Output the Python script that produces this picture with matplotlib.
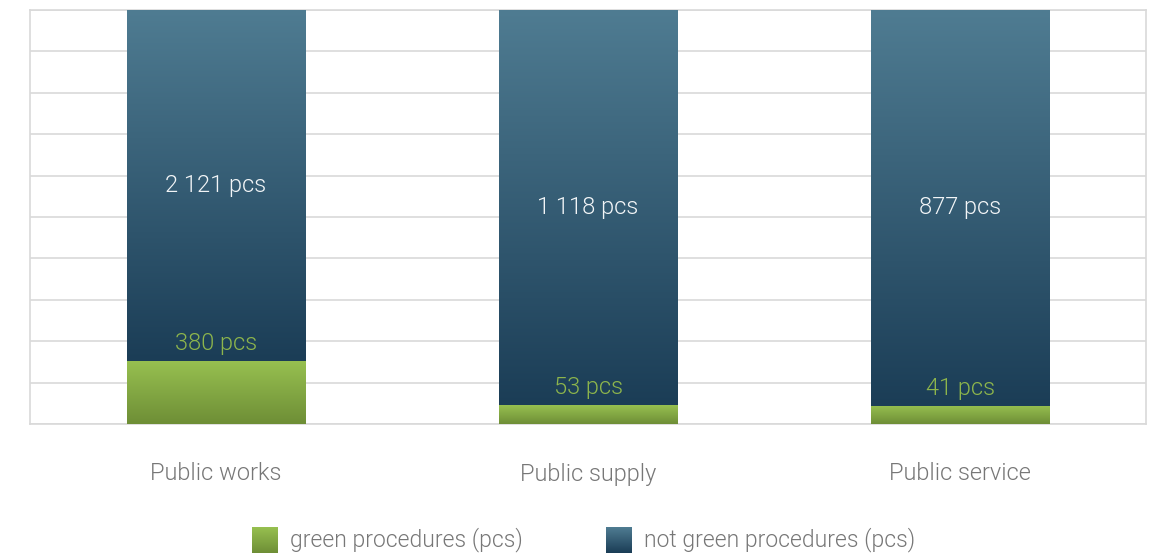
import numpy as np
import matplotlib.pyplot as plt
from matplotlib.colors import LinearSegmentedColormap

# ==============================
# Data
# ==============================

categories = ["Public works", "Public supply", "Public service"]
green = [380, 53, 41]
not_green = [2121, 1118, 877]
legend_labels = ["green procedures (pcs)", "not green procedures (pcs)"]

green = np.array(green)
not_green = np.array(not_green)
total = green + not_green
green_pct = green / total * 100
not_green_pct = not_green / total * 100

# ==============================
# Style
# ==============================

plt.rcParams["font.family"] = ["Roboto", "DejaVu Sans"]
WEIGHT = 300

BLUE_TOP, BLUE_BOT = "#4f7c92", "#1b3d56"
GREEN_TOP, GREEN_BOT = "#97c050", "#6e8e36"
GRID = "#d9d9d9"
TEXT_GRAY = "#777777"
LABEL_GREEN = "#8db54c"


def grad_fill(ax, patch, top, bottom):
    x0, y0 = patch.get_x(), patch.get_y()
    w, h = patch.get_width(), patch.get_height()
    cmap = LinearSegmentedColormap.from_list("g", [bottom, top])
    grad = np.linspace(0, 1, 256).reshape(-1, 1)
    ax.imshow(grad, extent=[x0, x0 + w, y0, y0 + h], origin="lower",
              cmap=cmap, aspect="auto", zorder=3, interpolation="bicubic")
    patch.set_visible(False)


fig = plt.figure(figsize=(11.55, 5.53), dpi=100)
ax = fig.add_axes([30 / 1155, 1 - 424 / 553, 1116 / 1155, 414 / 553])

x = np.arange(len(categories))
width = 0.48

bars_g = ax.bar(x, green_pct, width=width)
bars_n = ax.bar(x, not_green_pct, width=width, bottom=green_pct)

for p in bars_g:
    grad_fill(ax, p, GREEN_TOP, GREEN_BOT)
for p in bars_n:
    grad_fill(ax, p, BLUE_TOP, BLUE_BOT)

ax.set_xlim(-0.5, len(categories) - 0.5)
ax.set_ylim(0, 100)
ax.set_yticks(np.arange(0, 101, 10))
ax.set_xticks([])
ax.tick_params(left=False, labelleft=False)
ax.grid(axis="y", color=GRID, linewidth=1.2, zorder=0)
ax.set_axisbelow(True)
for s in ax.spines.values():
    s.set_color(GRID)
    s.set_linewidth(1.2)

# ==============================
# Labels
# ==============================

for i in range(len(categories)):
    ax.text(x[i], green_pct[i] + not_green_pct[i] / 2,
            f"{not_green[i]:,} pcs".replace(",", " "),
            ha="center", va="center", color="#f2f5f7", fontsize=17,
            fontweight=WEIGHT, zorder=5)
    ax.annotate(f"{green[i]} pcs", (x[i], green_pct[i]),
                xytext=(0, 12.5), textcoords="offset points",
                ha="center", va="center", color=LABEL_GREEN, fontsize=17,
                fontweight=WEIGHT, zorder=5)
    ax.text(x[i], -50 / 414, categories[i], transform=ax.get_xaxis_transform(),
            ha="center", va="center", color=TEXT_GRAY, fontsize=17,
            fontweight=WEIGHT)

# ==============================
# Legend
# ==============================

leg_items = [(252, GREEN_TOP, GREEN_BOT, legend_labels[0]),
             (606, BLUE_TOP, BLUE_BOT, legend_labels[1])]
for px, top, bot, lab in leg_items:
    lax = fig.add_axes([px / 1155, 0, 26 / 1155, 26 / 553])
    cmap = LinearSegmentedColormap.from_list("l", [bot, top])
    lax.imshow(np.linspace(0, 1, 64).reshape(-1, 1), origin="lower",
               cmap=cmap, aspect="auto")
    lax.axis("off")
    fig.text((px + 38) / 1155, 1 - 540 / 553, lab, ha="left", va="center",
             color=TEXT_GRAY, fontsize=16.5, fontweight=WEIGHT)

fig.savefig("out.png", dpi=100)
